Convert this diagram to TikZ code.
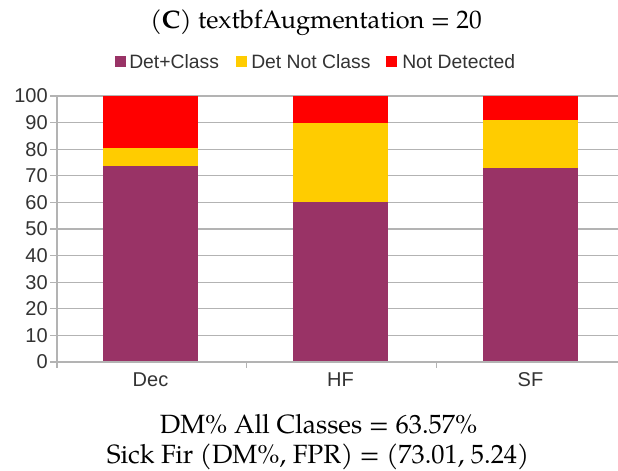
\documentclass[tikz,border=0pt]{standalone}
\usepackage{fontspec}
\newfontfamily\chartfont{Liberation Sans}
\newfontfamily\palfont{TeX Gyre Pagella}
\definecolor{dcpurple}{HTML}{993366}
\definecolor{dnyellow}{HTML}{FFCC00}
\definecolor{ndred}{HTML}{FF0000}
\definecolor{gridgray}{HTML}{B3B3B3}
\definecolor{labgray}{HTML}{333333}
\tikzset{
  gridline/.style={draw=gridgray, line width=0.9pt},
  axisline/.style={draw=gridgray, line width=1pt},
  ticklab/.style={font=\chartfont\fontsize{15}{16}\selectfont, text=labgray, inner sep=0pt},
  leglab/.style={font=\chartfont\fontsize{14.5}{16}\selectfont, text=labgray, inner sep=0pt, anchor=west},
  serifline/.style={font=\palfont\fontsize{19}{22}\selectfont, inner sep=0pt, anchor=base},
  bottomline/.style={font=\palfont\fontsize{19.8}{22}\selectfont, inner sep=0pt, anchor=base},
}
\begin{document}
\begin{tikzpicture}[x=0.75pt,y=-0.75pt]
\useasboundingbox[fill=white] (0,0) rectangle (618,471);
% title
\node[serifline] (title) at (316,28) {(\textbf{C}) textbfAugmentation = 20};
% legend
\fill[dcpurple] (115,56) rectangle (126,67);
\node[leglab] (leg1) at (129,62) {Det+Class};
\fill[dnyellow] (236,56) rectangle (247,67);
\node[leglab] (leg2) at (251,62) {Det Not Class};
\fill[ndred] (386,56) rectangle (397,67);
\node[leglab] (leg3) at (402,62) {Not Detected};
% grid and y ticks
\foreach \v in {0,10,...,100}{
  \draw[gridline] (50,{362-2.66*\v}) -- (618,{362-2.66*\v});
  \node[ticklab, anchor=east] (yl\v) at (48,{362-2.66*\v}) {\v};
}
% bars: x-left, x-right, purple top, yellow top
\foreach \xl/\xr/\p/\q in {103/198/73.7/80.3, 293/388/60.0/89.8, 483/578/73.0/90.9}{
  \fill[dcpurple] (\xl,362) rectangle (\xr,{362-2.66*\p});
  \fill[dnyellow] (\xl,{362-2.66*\p}) rectangle (\xr,{362-2.66*\q});
  \fill[ndred] (\xl,{362-2.66*\q}) rectangle (\xr,{362-2.66*100});
}
% axes
\draw[axisline] (57,96) -- (57,368);
\draw[axisline] (50,362) -- (618,362);
\draw[axisline] (246.5,362) -- (246.5,368);
\draw[axisline] (436.5,362) -- (436.5,368);
% x labels
\node[ticklab] (xdec) at (150.5,380) {Dec};
\node[ticklab] (xhf) at (340.5,380) {HF};
\node[ticklab] (xsf) at (530.5,380) {SF};
% bottom text
\node[bottomline] (line1) at (318.5,433) {DM\% All Classes = 63.57\%};
\node[bottomline] (line2) at (318,463) {Sick Fir (DM\%, FPR) = (73.01, 5.24)};
\end{tikzpicture}
\end{document}
